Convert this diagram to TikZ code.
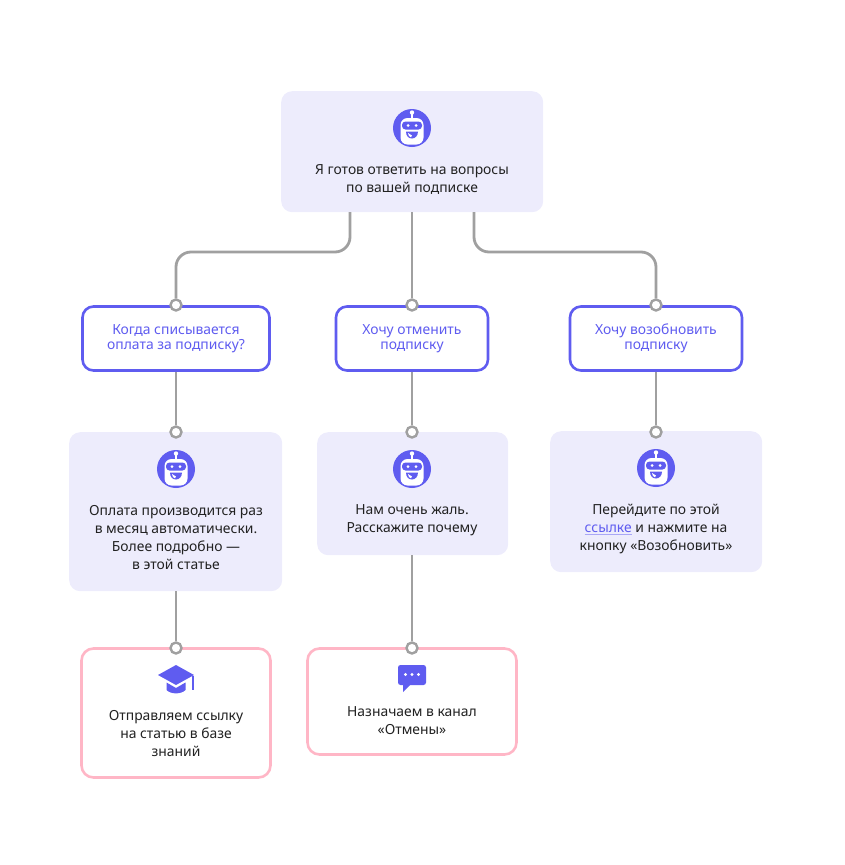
\documentclass[tikz,border=0pt]{standalone}
\usepackage{fontspec}
\setmainfont{Noto Sans}
\usepackage{xcolor}
\usetikzlibrary{positioning,calc}
\definecolor{violet}{HTML}{5F5CF0}
\definecolor{paleviolet}{HTML}{EDECFC}
\definecolor{linkline}{HTML}{A9A7F6}
\definecolor{pinkline}{HTML}{FFB6C6}
\definecolor{greyline}{HTML}{A0A0A0}
\definecolor{inktext}{HTML}{222222}
\begin{document}
\begin{tikzpicture}[
  x=1pt,y=-1pt,
  txt/.style={font=\fontsize{13.9}{18}\selectfont,align=center,text=inktext,inner sep=0pt},
  asktxt/.style={font=\fontsize{13.9}{15.5}\selectfont,align=center,text=violet,inner sep=0pt},
  botbox/.style={fill=paleviolet,rounded corners=11pt,anchor=north west,inner sep=0pt},
  askbox/.style={draw=violet,fill=white,line width=2.6pt,rounded corners=11pt,inner sep=0pt},
  keybox/.style={draw=pinkline,fill=white,line width=2.6pt,rounded corners=12pt,inner sep=0pt},
  conn/.style={draw=greyline,line width=2.8pt,rounded corners=15pt},
  dot/.style={circle,draw=greyline,fill=white,line width=2.4pt,minimum size=11pt,inner sep=0pt},
  robot/.pic={
    \fill[violet] (0,0) circle (19);
    \fill[white] (-1,-15) rectangle (1,-10);
    \fill[white] (0,-15.5) circle (2.2);
    \fill[white,rounded corners=7pt] (-11.5,-10) rectangle (11.5,16.5);
    \fill[violet,rounded corners=3.5pt] (-10,-6.5) rectangle (10,1.5);
    \fill[white] (-4,-2.5) circle (1.5) (4,-2.5) circle (1.5);
    \fill[violet] (-6,3.5) -- (6,3.5) .. controls (6,8) and (3,10.5) .. (0,10.5) .. controls (-3.5,10.5) and (-6,8) .. cycle;
    \fill[white] (-4,5) -- (0,7.5) -- (-1,9.3) .. controls (-2.5,9) and (-4,7.5) .. cycle;
  },
  hat/.pic={
    \fill[violet] (0,-15) -- (18,-5) -- (0,5) -- (-18,-5) -- cycle;
    \fill[violet] (-9.5,2.5) -- (0,8) -- (9.5,2.5) -- (9.5,10) .. controls (5,14.5) and (-5,14.5) .. (-9.5,10) -- cycle;
    \fill[violet] (16.2,-4) rectangle (17.5,10);
  },
  chat/.pic={
    \fill[violet,rounded corners=2.5pt] (-14,-11) rectangle (14,9);
    \fill[violet] (-9,8) -- (-9,16) -- (-1,8) -- cycle;
    \fill[white] (-6.5,-1.5) circle (1.7) (0,-1.5) circle (1.7) (6.5,-1.5) circle (1.7);
  }
]
\useasboundingbox (0,0) rectangle (844,865);

\node[botbox,minimum width=262pt,minimum height=121pt] (hello) at (281,91) {};
\node[askbox,minimum width=187pt,minimum height=64pt] (ask1) at (176,338.5) {};
\node[askbox,minimum width=152pt,minimum height=64pt] (ask2) at (412,338.5) {};
\node[askbox,minimum width=172pt,minimum height=64pt] (ask3) at (656,338.5) {};
\node[botbox,minimum width=213pt,minimum height=159pt] (ans1) at (69,432) {};
\node[botbox,minimum width=191pt,minimum height=123pt] (ans2) at (317,432) {};
\node[botbox,minimum width=212pt,minimum height=141pt] (ans3) at (550,431) {};
\node[keybox,minimum width=189pt,minimum height=129pt] (key1) at (176,713) {};
\node[keybox,minimum width=209pt,minimum height=106pt] (key2) at (412,701.5) {};

% free ends and bends of the three top lines
\coordinate (top) at (412,212);
\coordinate (topl) at (350,212);
\coordinate (topr) at (474,212);
\coordinate (bendl) at (263,252);
\coordinate (bendr) at (565,252);

\node[dot] (d1) at (176,305) {};
\node[dot] (d2) at (412,305) {};
\node[dot] (d3) at (656,305) {};
\node[dot] (d4) at (176,432) {};
\node[dot] (d5) at (412,432) {};
\node[dot] (d6) at (656,432) {};
\node[dot] (d7) at (176,648) {};
\node[dot] (d8) at (412,648) {};

\draw[conn] (topl) |- (bendl) -| (d1.north);
\draw[conn] (top) -- (d2.north);
\draw[conn] (topr) |- (bendr) -| (d3.north);
\draw[conn] (ask1.south) -- (d4.north);
\draw[conn] (ask2.south) -- (d5.north);
\draw[conn] (ask3.south) -- (d6.north);
\draw[conn] (d7 |- ans1.south) -- (d7.north);
\draw[conn] (d8 |- ans2.south) -- (d8.north);

\pic at (412,128) {robot};
\pic at (176,469) {robot};
\pic at (412,469) {robot};
\pic at (656,468) {robot};
\pic at (176,680) {hat};
\pic at (412,676) {chat};

\node[txt] (t0) at (412,179.5) {Я готов ответить на вопросы\\по вашей подписке};
\node[asktxt] (t1) at (176,338.5) {Когда списывается\\оплата за подписку?};
\node[asktxt] (t2) at (412,338.5) {Хочу отменить\\подписку};
\node[asktxt] (t3) at (656,338.5) {Хочу возобновить\\подписку};
\node[txt] (t4) at (176,537.5) {Оплата производится раз\\в месяц автоматически.\\Более подробно —\\в этой статье};
\node[txt] (t5) at (412,520.5) {Нам очень жаль.\\Расскажите почему};
\node[txt] (t6) at (656,529) {Перейдите по этой\\{\color{linkline}\underline{\color{violet}ссылке}} и нажмите на\\кнопку «Возобновить»};
\node[txt] (t7) at (176,734) {Отправляем ссылку\\на статью в базе\\знаний};
\node[txt] (t8) at (412,720.5) {Назначаем в канал\\«Отмены»};
\end{tikzpicture}
\end{document}
